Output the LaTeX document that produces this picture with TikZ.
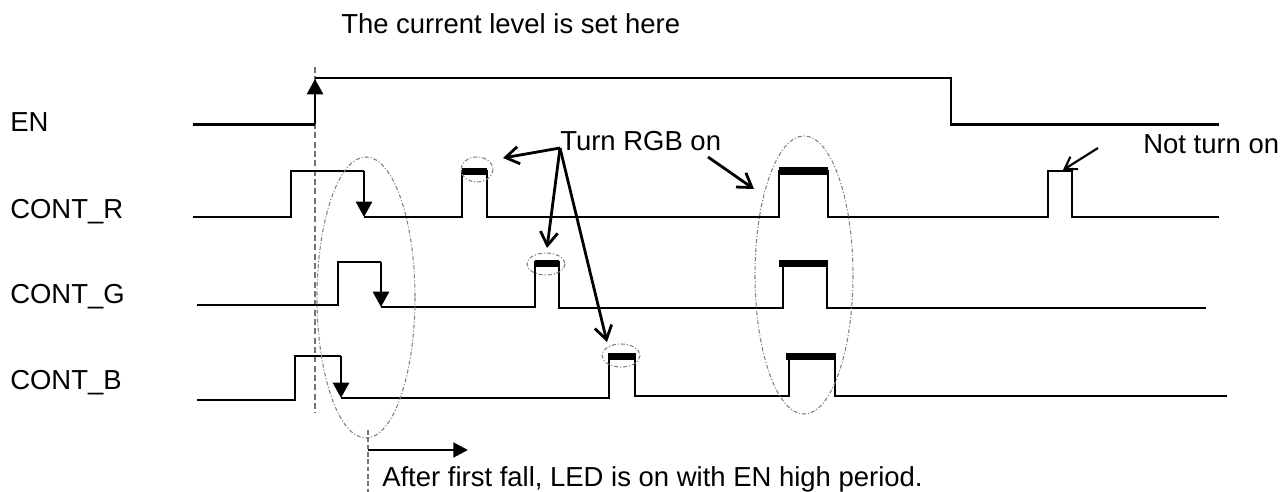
\documentclass[tikz,border=0pt]{standalone}
\usepackage{fontspec}
\setmainfont{Liberation Sans}
\usetikzlibrary{arrows.meta}
\begin{document}
\begin{tikzpicture}[x=0.75pt,y=-0.75pt,
  sig/.style={line width=1.6pt, line join=miter},
  edgearrow/.style={line width=2.1pt, -{Triangle[length=11.5pt,width=12pt]}},
  callout/.style={line width=2.1pt, -{Straight Barb[length=10pt,width=13pt,line width=2.1pt]}},
  thincallout/.style={line width=1.6pt, -{Straight Barb[length=8.5pt,width=11pt,line width=1.6pt]}},
  bar/.style={fill=black, draw=none},
  markring/.style={gray, line width=0.8pt, dash pattern=on 3pt off 1.5pt on 0.8pt off 1.5pt},
  guide/.style={black!55, line width=1pt, dash pattern=on 4.5pt off 2.5pt},
  lbl/.style={anchor=base west, inner sep=0pt, font=\fontsize{20.6}{24}\selectfont}]
\useasboundingbox (0,0) rectangle (1282,492);

% labels
\node[lbl] (title) at (341,34) {The current level is set here};
\node[lbl] (en) at (10,132) {EN};
\node[lbl] (r) at (10,218) {CONT\_R};
\node[lbl] (g) at (10,303) {CONT\_G};
\node[lbl] (b) at (10,389) {CONT\_B};
\node[lbl] (turn) at (560,150) {Turn RGB on};
\node[lbl] (notturn) at (1143,153) {Not turn on};
\node[lbl] (after) at (382,486) {After first fall, LED is on with EN high period.};

% guide lines
\draw[guide] (315,67) -- (315,413);
\draw[black!55, line width=0.8pt, dash pattern=on 3.5pt off 2pt] (368,430) -- (368,492);

% EN
\coordinate (enA) at (315,124.5);
\coordinate (enB) at (315,79);
\draw[sig] (193,124.5) -- (enA);
\draw[edgearrow] (enA) -- (enB);
\draw[sig] (315,78) -- (951,78) -- (951,124.5) -- (1219,124.5);

% CONT_R
\coordinate (rA) at (364,171);
\coordinate (rB) at (364,217);
\draw[sig] (193,217) -- (291,217) -- (291,171) -- (rA);
\draw[edgearrow] (rA) -- (rB);
\draw[sig] (rB) -- (462,217) -- (462,171) -- (487,171) -- (487,217) -- (779,217) -- (779,171) -- (828,171) -- (828,217)
  -- (1048,217) -- (1048,171) -- (1072,171) -- (1072,217) -- (1219,217);
\fill[bar] (462,168) rectangle (487,175);
\fill[bar] (779,167) rectangle (828,175);

% CONT_G
\coordinate (gA) at (381,262);
\coordinate (gB) at (381,307);
\draw[sig] (197,305) -- (338,305) -- (338,262) -- (gA);
\draw[edgearrow] (gA) -- (gB);
\draw[sig] (gB) -- (535,307) -- (535,262) -- (559,262) -- (559,308) -- (783,308) -- (783,262) -- (827,262) -- (827,308) -- (1206,308);
\fill[bar] (535,260) rectangle (559,267);
\fill[bar] (779,260) rectangle (828,267);

% CONT_B
\coordinate (bA) at (341,356);
\coordinate (bB) at (341,398);
\draw[sig] (197,400) -- (295,400) -- (295,356) -- (bA);
\draw[edgearrow] (bA) -- (bB);
\draw[sig] (bB) -- (609,398) -- (609,354) -- (635,354) -- (635,396) -- (789,396) -- (789,354) -- (835,354) -- (835,396) -- (1227,396);
\fill[bar] (609,353) rectangle (635,360);
\fill[bar] (786,353) rectangle (835,360);

% marking ellipses
\draw[markring] (366,297.5) ellipse [x radius=49, y radius=140.5];
\draw[markring] (804,275) ellipse [x radius=49, y radius=139];
\draw[markring] (477,169.5) ellipse [x radius=16, y radius=12.5];
\draw[markring] (546,264) ellipse [x radius=19, y radius=11];
\draw[markring] (621,355.5) ellipse [x radius=19, y radius=11.5];

% callouts
\coordinate (t0) at (560,148);
\coordinate (t1) at (503,158);
\coordinate (t2) at (547,248);
\coordinate (t3) at (607,342);
\coordinate (t4s) at (708,157);
\coordinate (t4) at (754,189);
\draw[callout] (t0) -- (t1);
\draw[callout] (t0) -- (t2);
\draw[callout] (t0) -- (t3);
\draw[callout] (t4s) -- (t4);
\coordinate (n0) at (1098,148);
\coordinate (n1) at (1063,170);
\draw[thincallout] (n0) -- (n1);

% after-fall arrow
\coordinate (a0) at (368,450);
\coordinate (a1) at (468,450);
\draw[line width=2.2pt, -{Triangle[length=11pt,width=11pt]}] (a0) -- (a1);
\end{tikzpicture}
\end{document}
